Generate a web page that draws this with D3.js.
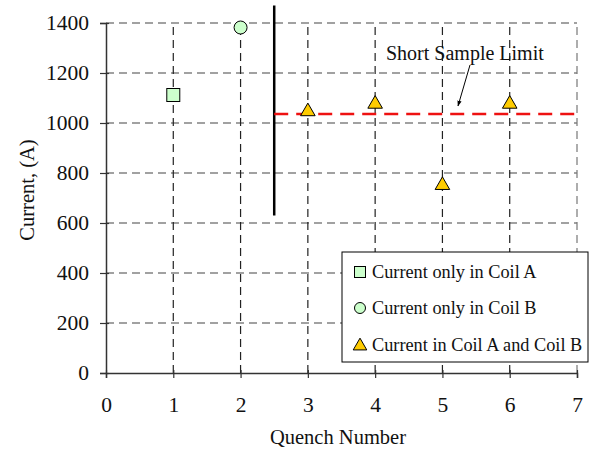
<!DOCTYPE html>
<html><head><meta charset="utf-8">
<script src="https://cdn.jsdelivr.net/npm/d3@7"></script>
<style>body{margin:0;background:#fff}svg{font-family:"Liberation Serif","Times New Roman",serif}</style>
</head><body><svg id="c" width="590" height="450"></svg>
<script>
const xTicks = [0,1,2,3,4,5,6,7];
const yTicks = [0,200,400,600,800,1000,1200,1400];
const coilA = [{x:1, y:1112}];
const coilB = [{x:2, y:1382}];
const coilAB = [{x:3, y:1050},{x:4, y:1080},{x:5, y:755},{x:6, y:1080}];
const shortSampleLimit = 1036;
const limitRange = [2.5, 7];
const dividerX = 2.5;
const dividerRange = [630, 1470];
const legendLabels = ["Current only in Coil A","Current only in Coil B","Current in Coil A and Coil B"];

const svg = d3.select("#c");
const x = d3.scaleLinear().domain([0,7]).range([106,577]);
const y = d3.scaleLinear().domain([0,1400]).range([373,23]);

// gridlines
svg.append("g").selectAll("line").data(yTicks.slice(1)).join("line")
  .attr("x1",x(0)).attr("x2",x(7)).attr("y1",d=>y(d)).attr("y2",d=>y(d))
  .attr("stroke","#444").attr("stroke-width",1.2).attr("stroke-dasharray","8,5");
svg.append("g").selectAll("line").data(xTicks.slice(1)).join("line")
  .attr("x1",d=>x(d)).attr("x2",d=>x(d)).attr("y1",y(0)).attr("y2",y(1400))
  .attr("stroke",d=>d===7?"#777":"#222").attr("stroke-width",1.2).attr("stroke-dasharray","8,5");

// axes
const fs = "21.5px";
const xa = svg.append("g").attr("transform",`translate(0,${y(0)})`)
  .call(d3.axisBottom(x).tickValues(xTicks).tickSize(5).tickPadding(19).tickFormat(d3.format("d")));
const ya = svg.append("g").attr("transform",`translate(${x(0)},0)`)
  .call(d3.axisLeft(y).tickValues(yTicks).tickSize(6).tickPadding(11).tickFormat(d3.format("d")));
[xa,ya].forEach(a=>{
  a.select(".domain").attr("stroke","#333").attr("stroke-width",1.5);
  a.selectAll(".tick line").attr("stroke","#333").attr("stroke-width",1.2);
  a.selectAll("text").attr("font-size",fs).attr("fill","#111").attr("font-family","Liberation Serif");
});
xa.selectAll(".tick line").attr("y1",-3);
ya.selectAll(".tick line").attr("x1",3).attr("x2",-6);

// axis titles
svg.append("text").attr("x",338).attr("y",444).attr("text-anchor","middle")
  .attr("font-size","20.5px").attr("fill","#111").text("Quench Number");
svg.append("text").attr("transform","translate(34,190) rotate(-90)").attr("text-anchor","middle")
  .attr("font-size","20.5px").attr("fill","#111").text("Current, (A)");

// divider line
svg.append("line").attr("x1",x(dividerX)).attr("x2",x(dividerX))
  .attr("y1",y(dividerRange[0])).attr("y2",y(dividerRange[1]))
  .attr("stroke","#000").attr("stroke-width",2.5);

// short sample limit
svg.append("line").attr("x1",x(limitRange[0])).attr("x2",x(limitRange[1]))
  .attr("y1",y(shortSampleLimit)).attr("y2",y(shortSampleLimit))
  .attr("stroke","#ee1111").attr("stroke-width",2.5).attr("stroke-dasharray","14,8");

// annotation
svg.append("defs").append("marker").attr("id","ah").attr("viewBox","0 0 10 10")
  .attr("refX",9).attr("refY",5).attr("markerWidth",6).attr("markerHeight",6).attr("orient","auto")
  .append("path").attr("d","M0,1.5L10,5L0,8.5z").attr("fill","#000");
svg.append("text").attr("x",386).attr("y",60).attr("font-size","20px").attr("fill","#111").text("Short Sample Limit");
svg.append("line").attr("x1",470).attr("y1",65).attr("x2",458).attr("y2",106)
  .attr("stroke","#000").attr("stroke-width",1).attr("marker-end","url(#ah)");

// markers
const sq = 13;
svg.append("g").selectAll("rect").data(coilA).join("rect")
  .attr("x",d=>x(d.x)-sq/2).attr("y",d=>y(d.y)-sq/2).attr("width",sq).attr("height",sq)
  .attr("fill","#ccffcc").attr("stroke","#000").attr("stroke-width",1);
svg.append("g").selectAll("circle").data(coilB).join("circle")
  .attr("cx",d=>x(d.x)).attr("cy",d=>y(d.y)).attr("r",6.5)
  .attr("fill","#ccffcc").attr("stroke","#000").attr("stroke-width",1);
const tri = d3.symbol().type(d3.symbolTriangle).size(92);
svg.append("g").selectAll("path").data(coilAB).join("path")
  .attr("transform",d=>`translate(${x(d.x)},${y(d.y)+1})`).attr("d",tri)
  .attr("fill","#ffcc00").attr("stroke","#000").attr("stroke-width",1);

// legend
const lg = svg.append("g");
lg.append("rect").attr("x",342).attr("y",252).attr("width",246).attr("height",110)
  .attr("fill","#fff").attr("stroke","#000").attr("stroke-width",1);
const rows = [272,308,345];
lg.append("rect").attr("x",354.5).attr("y",rows[0]-5.5).attr("width",11).attr("height",11)
  .attr("fill","#ccffcc").attr("stroke","#000");
lg.append("circle").attr("cx",360).attr("cy",rows[1]).attr("r",5.5)
  .attr("fill","#ccffcc").attr("stroke","#000");
lg.append("path").attr("transform",`translate(360,${rows[2]+1})`)
  .attr("d",d3.symbol().type(d3.symbolTriangle).size(80))
  .attr("fill","#ffcc00").attr("stroke","#000");
lg.selectAll("text.l").data(legendLabels).join("text").attr("class","l")
  .attr("x",372).attr("y",(d,i)=>rows[i]+6).attr("font-size","18.3px").attr("fill","#111").text(d=>d);
</script></body></html>
